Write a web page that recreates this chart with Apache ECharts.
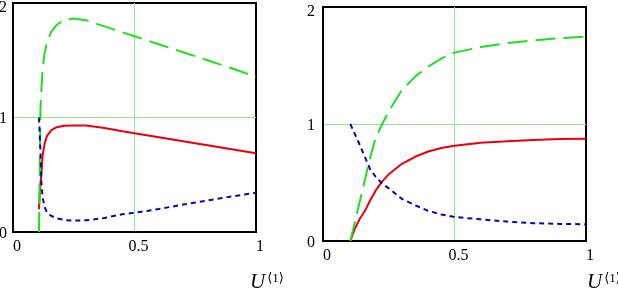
<!DOCTYPE html>
<html>
<head>
<meta charset="utf-8">
<script src="https://cdn.jsdelivr.net/npm/echarts@6/dist/echarts.min.js"></script>
<style>
  html, body { margin: 0; padding: 0; background: #fff; }
  #chart { width: 618px; height: 291px; }
</style>
</head>
<body>
<div id="chart"></div>
<script>
// left plot
var xLeft = [0.107, 0.110, 0.113, 0.117, 0.122, 0.13, 0.14, 0.158, 0.18, 0.21, 0.25, 0.3, 0.37, 0.45, 0.5, 0.6, 0.7, 0.8, 0.9, 1.0];
var greenLeft = [0, 0.55, 1.07, 1.25, 1.43, 1.56, 1.66, 1.75, 1.81, 1.85, 1.865, 1.85, 1.80, 1.745, 1.71, 1.64, 1.57, 1.50, 1.43, 1.355];
var redLeft = [0.2, 0.33, 0.42, 0.51, 0.67, 0.77, 0.84, 0.89, 0.915, 0.928, 0.93, 0.93, 0.91, 0.88, 0.862, 0.827, 0.792, 0.757, 0.722, 0.687];
var blueLeft = [1.0, 0.85, 0.7, 0.43, 0.3, 0.22, 0.17, 0.14, 0.12, 0.105, 0.099, 0.102, 0.12, 0.155, 0.169, 0.2, 0.24, 0.275, 0.31, 0.343];

// right plot
var xRight = [0.104, 0.12, 0.14, 0.16, 0.18, 0.2, 0.225, 0.25, 0.3, 0.35, 0.4, 0.45, 0.5, 0.6, 0.7, 0.8, 0.9, 1.0];
var greenRight = [0, 0.15, 0.34, 0.53, 0.72, 0.88, 1.0, 1.11, 1.29, 1.405, 1.49, 1.56, 1.61, 1.658, 1.692, 1.715, 1.733, 1.748];
var redRight = [0, 0.1, 0.19, 0.26, 0.35, 0.43, 0.51, 0.57, 0.66, 0.72, 0.765, 0.795, 0.815, 0.84, 0.853, 0.864, 0.871, 0.874];
var blueRight = [1.0, 0.92, 0.82, 0.714, 0.61, 0.55, 0.49, 0.45, 0.36, 0.306, 0.258, 0.226, 0.205, 0.185, 0.166, 0.152, 0.146, 0.143];

var xTicks = [0, 0.5, 1];
var yTicks = [0, 1, 2];
var axisTitle = 'U';
var axisSup = '\u27E81\u27E9';

var font = '"Liberation Serif", "DejaVu Serif", serif';

function pairs(xs, ys) {
    return xs.map(function (x, i) { return [x, ys[i]]; });
}

function makeX(idx, gap, drop) {
    return {
        type: 'value',
        gridIndex: idx,
        min: xTicks[0],
        max: xTicks[xTicks.length - 1],
        interval: xTicks[1] - xTicks[0],
        axisLine: {show: true, onZero: false, lineStyle: {color: '#000', width: 2}},
        axisTick: {show: false},
        splitLine: {show: true, showMinLine: false, showMaxLine: false, lineStyle: {color: '#8ee88e', width: 1}},
        axisLabel: {
            color: '#000', fontFamily: font, fontSize: 16, margin: 7,
            padding: [0, 0, 0, 8],
            formatter: function (v) { return String(v); }
        },
        name: '{u|' + axisTitle + '}{s|' + axisSup + '}',
        nameLocation: 'end',
        nameGap: gap,
        nameTextStyle: {
            align: 'left',
            verticalAlign: 'top',
            padding: [drop, 0, 0, 0],
            rich: {
                u: {fontFamily: font, fontStyle: 'italic', fontSize: 21, color: '#000'},
                s: {fontFamily: font, fontSize: 13, color: '#000', verticalAlign: 'top', padding: [0, 0, 8, 2]}
            }
        }
    };
}

function makeY(idx, gap) {
    return {
        type: 'value',
        gridIndex: idx,
        min: yTicks[0],
        max: yTicks[yTicks.length - 1],
        interval: yTicks[1] - yTicks[0],
        axisLine: {show: true, onZero: false, lineStyle: {color: '#000', width: 2}},
        axisTick: {show: false},
        splitLine: {show: true, showMinLine: false, showMaxLine: false, lineStyle: {color: '#8ee88e', width: 1}},
        axisLabel: {
            color: '#000', fontFamily: font, fontSize: 16, margin: gap,
            formatter: function (v) {
                return v === yTicks[yTicks.length - 1] ? '{t|' + v + '}' : '{n|' + v + '}';
            },
            rich: {
                t: {fontFamily: font, fontSize: 16, color: '#000', padding: [10, 0, 0, 0]},
                n: {fontFamily: font, fontSize: 16, color: '#000', padding: [3, 0, 0, 0]}
            }
        }
    };
}

function line(name, idx, data, color, dash) {
    return {
        name: name,
        type: 'line',
        xAxisIndex: idx,
        yAxisIndex: idx,
        data: data,
        showSymbol: false,
        symbol: 'none',
        silent: true,
        lineStyle: {color: color, width: 2, type: dash}
    };
}

var chart = echarts.init(document.getElementById('chart'), null, {renderer: 'canvas'});

var option = {
    backgroundColor: '#fff',
    animation: false,
    grid: [
        {left: 13, top: 3, width: 243, height: 229, show: true, borderColor: '#000', borderWidth: 2,
            containLabel: false, outerBoundsMode: 'none'},
        {left: 323, top: 7, width: 263, height: 234, show: true, borderColor: '#000', borderWidth: 2,
            containLabel: false, outerBoundsMode: 'none'}
    ],
    xAxis: [makeX(0, -6, 40), makeX(1, 1, 31)],
    yAxis: [makeY(0, 6), makeY(1, 8)],
    series: [
        line('red1', 0, pairs(xLeft, redLeft), '#e8000c', 'solid'),
        line('green1', 0, pairs(xLeft, greenLeft), '#1ee01e', [20, 8]),
        line('blue1', 0, pairs(xLeft, blueLeft), '#0a0aa0', [5, 4]),
        line('red2', 1, pairs(xRight, redRight), '#e8000c', 'solid'),
        line('green2', 1, pairs(xRight, greenRight), '#1ee01e', [20, 8]),
        line('blue2', 1, pairs(xRight, blueRight), '#0a0aa0', [5, 4])
    ]
};

chart.setOption(option);
</script>
</body>
</html>
